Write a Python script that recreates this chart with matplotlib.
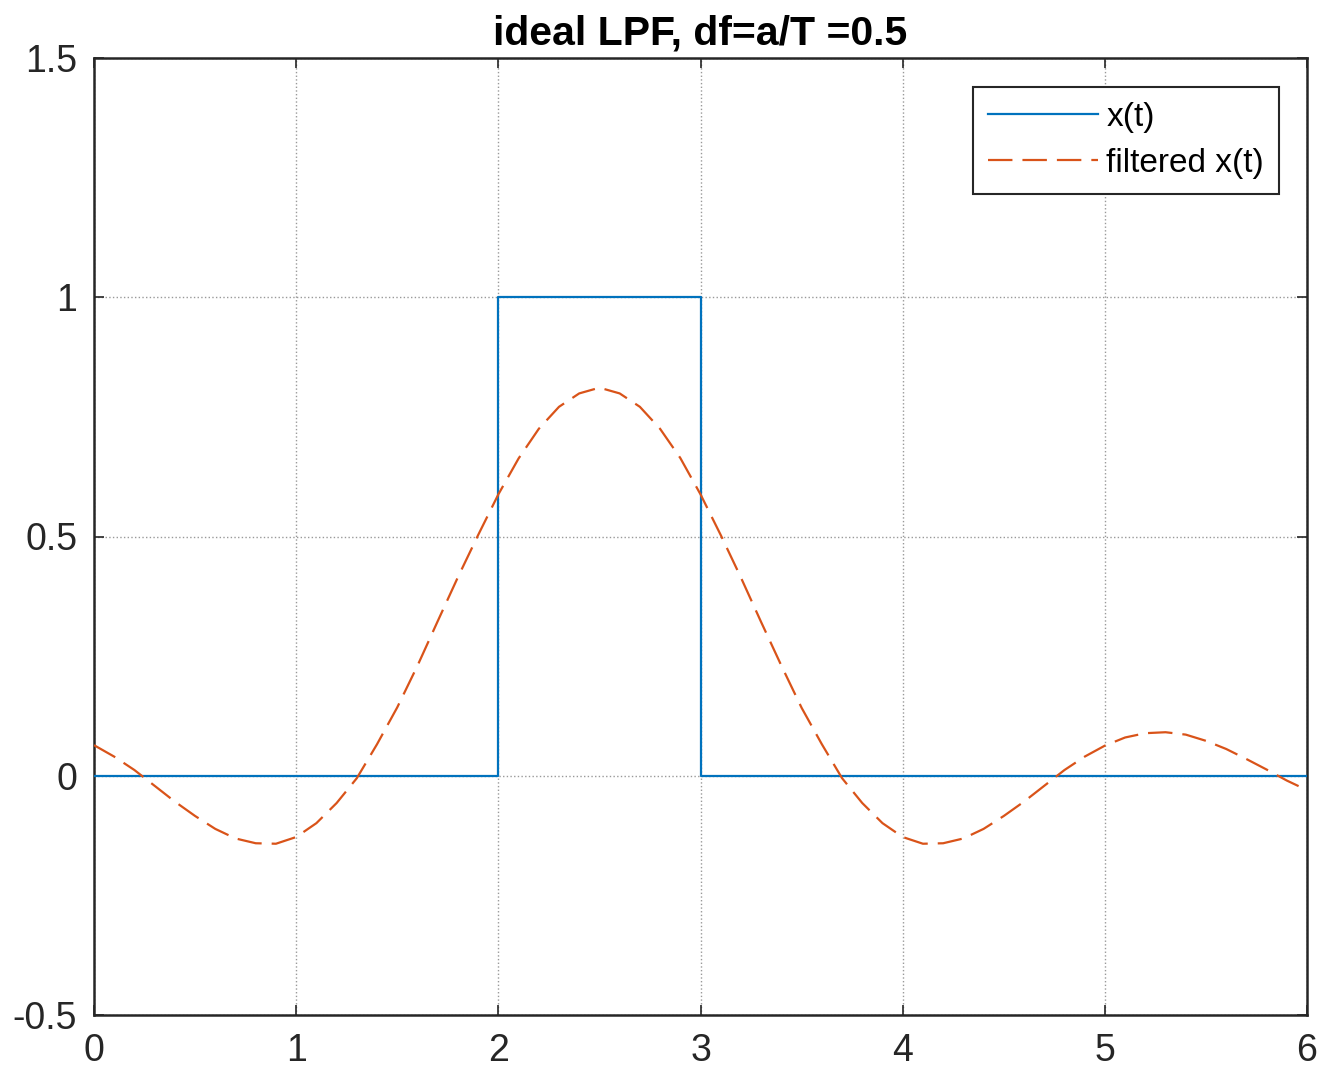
import matplotlib
matplotlib.use('Agg')
import matplotlib.pyplot as plt
import numpy as np

plt.rcParams.update({
    'font.family': ['Liberation Sans', 'DejaVu Sans'],
    'font.size': 24,
})

# input pulse x(t)
t_x = [0, 2, 2, 3, 3, 6]
x_t = [0, 0, 1, 1, 0, 0]

# filtered x(t), every 0.1
t_f = np.round(np.arange(0, 6.01, 0.1), 2)
y_f = [0.064, 0.040, 0.012, -0.021, -0.054, -0.084, -0.111, -0.131, -0.141, -0.142,
       -0.128, -0.099, -0.057, -0.005, 0.066, 0.143, 0.230, 0.323, 0.415, 0.503,
       0.588, 0.663, 0.725, 0.771, 0.799, 0.811, 0.799, 0.771, 0.725, 0.664,
       0.588, 0.503, 0.414, 0.321, 0.230, 0.142, 0.066, -0.005, -0.057, -0.099,
       -0.128, -0.142, -0.141, -0.131, -0.111, -0.084, -0.054, -0.021, 0.012, 0.040,
       0.063, 0.080, 0.089, 0.091, 0.086, 0.073, 0.056, 0.035, 0.013, -0.010,
       -0.030]

fig = plt.figure(figsize=(13.22, 10.73), dpi=100)
ax = fig.add_axes([0.0711, 0.054, 0.9176, 0.892])

ax.plot(t_x, x_t, '-', color='#0072BD', lw=1.6, label='x(t)', zorder=3)
ax.plot(t_f, y_f, '--', color='#D95319', lw=1.6, dashes=(11, 4.5),
        label='filtered x(t)', zorder=4)

ax.set_xlim(0, 6)
ax.set_ylim(-0.5, 1.5)
ax.set_xticks(range(0, 7))
ax.set_yticks([-0.5, 0, 0.5, 1, 1.5])
ax.set_yticklabels(['-0.5', '0', '0.5', '1', '1.5'])
ax.grid(True, color='#999999', ls=':', lw=1.0)
ax.tick_params(direction='in', top=True, right=True, length=7, width=1.2,
               labelsize=27, colors='#262626')
ax.tick_params(axis='x', pad=13)
ax.tick_params(axis='y', pad=12)
for s in ax.spines.values():
    s.set_linewidth(1.8)
    s.set_color('#262626')

ax.set_title('ideal LPF, df=a/T =0.5', fontsize=29.5, fontweight='bold', pad=10)

leg = ax.legend(loc='upper right', bbox_to_anchor=(0.977, 0.97), fontsize=24,
                fancybox=False, framealpha=1, edgecolor='#262626',
                handlelength=3.3, handletextpad=0.25, borderpad=0.45,
                labelspacing=0.45, borderaxespad=0)
leg.get_frame().set_linewidth(1.5)

plt.savefig('out.png', dpi=100)
